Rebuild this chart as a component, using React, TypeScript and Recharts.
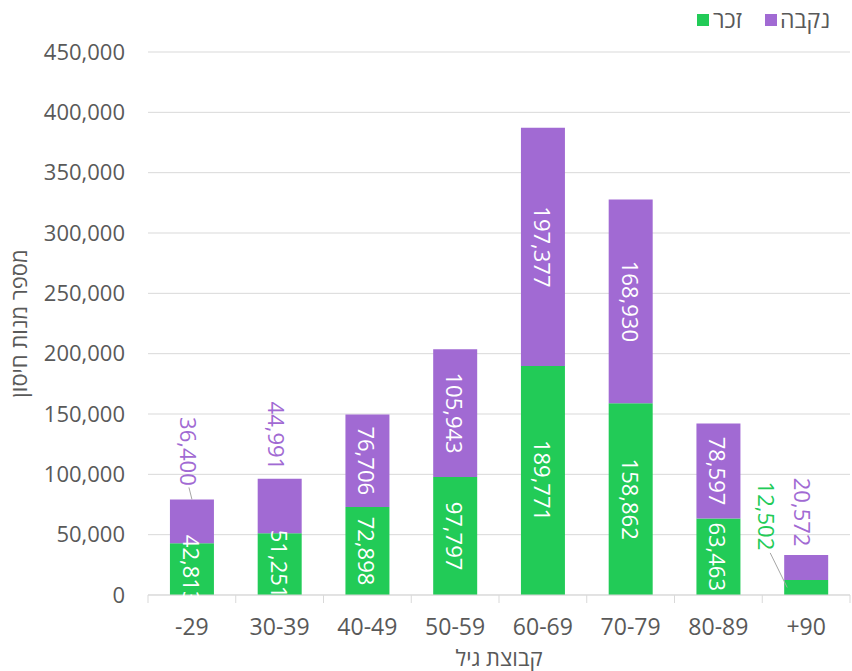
import React from "react";
import { BarChart, Bar, XAxis, YAxis, CartesianGrid, LabelList, Label } from "recharts";

const categories = ["-29", "30-39", "40-49", "50-59", "60-69", "70-79", "80-89", "+90"];
const male = [42813, 51251, 72898, 97797, 189771, 158862, 63463, 12502];
const female = [36400, 44991, 76706, 105943, 197377, 168930, 78597, 20572];
const yTicks = [0, 50000, 100000, 150000, 200000, 250000, 300000, 350000, 400000, 450000];
const seriesNames = { male: "זכר", female: "נקבה" };
const axisTitles = { x: "קבוצת גיל", y: "מספר מנות חיסון" };

const data = categories.map((c, i) => ({ name: c, male: male[i], female: female[i] }));

const W = 852;
const H = 671;
const Y_AXIS_W = 148;
const X_AXIS_H = 76;
const TOP = 52;
const RIGHT = 2;
const PLOT_W = W - Y_AXIS_W - RIGHT;
const BAND = PLOT_W / categories.length;
const AXIS_Y = H - X_AXIS_H;

const GREEN = "#22CB57";
const PURPLE = "#A16AD3";
const TEXT = "#595959";
const GRID = "#D9D9D9";
const FONT = "'Open Sans', 'Noto Sans', sans-serif";
const fmt = (v: number) => v.toLocaleString("en-US");

const makeLabel = (series: "male" | "female") => (props: any) => {
  const { x, y, width, height, value, index } = props;
  const cx = x + width / 2;
  const fs = 22;
  const threshold = series === "female" ? 60 : 30;
  if (height >= threshold) {
    const cy = y + height / 2;
    return (
      <text x={cx} y={cy} transform={`rotate(90, ${cx}, ${cy})`} textAnchor="middle" dominantBaseline="central"
        fill="#ffffff" fontSize={fs} fontFamily={FONT}>{fmt(value)}</text>
    );
  }
  if (series === "female") {
    const cy = index === 0 ? y - 48 : y - 43;
    const lx = cx - 3;
    return (
      <g>
        {index === 0 && <line x1={lx} y1={cy + 36} x2={cx} y2={y} stroke="#A6A6A6" strokeWidth={1} />}
        <text x={lx} y={cy} transform={`rotate(90, ${lx}, ${cy})`} textAnchor="middle" dominantBaseline="central"
          fill={PURPLE} fontSize={fs} fontFamily={FONT}>{fmt(value)}</text>
      </g>
    );
  }
  const lx = cx - 39;
  const cy = y - 64;
  return (
    <g>
      <line x1={lx + 3} y1={cy + 37} x2={cx - 19} y2={y + height / 2} stroke="#A6A6A6" strokeWidth={1} />
      <text x={lx} y={cy} transform={`rotate(90, ${lx}, ${cy})`} textAnchor="middle" dominantBaseline="central"
        fill={GREEN} fontSize={fs} fontFamily={FONT}>{fmt(value)}</text>
    </g>
  );
};

const XTick = (props: any) => {
  const { x, payload, index } = props;
  const left = x - BAND / 2;
  const right = x + BAND / 2;
  return (
    <g>
      <line x1={left} y1={AXIS_Y} x2={left} y2={AXIS_Y + 8} stroke={GRID} strokeWidth={1} />
      {index === categories.length - 1 && (
        <line x1={right} y1={AXIS_Y} x2={right} y2={AXIS_Y + 8} stroke={GRID} strokeWidth={1} />
      )}
      <text x={x} y={AXIS_Y + 40} textAnchor="middle" fill={TEXT} fontSize={23} fontFamily={FONT}>
        {payload.value}
      </text>
    </g>
  );
};

const YTitle = (props: any) => {
  const vb = props.viewBox || {};
  const cy = (vb.y ?? TOP) + (vb.height ?? AXIS_Y - TOP) / 2;
  const cx = 18;
  return (
    <text x={cx} y={cy} transform={`rotate(-90, ${cx}, ${cy})`} textAnchor="middle" dominantBaseline="central"
      fill={TEXT} fontSize={22} fontFamily={FONT}>{axisTitles.y}</text>
  );
};

const XTitle = () => (
  <text x={Y_AXIS_W + PLOT_W / 2} y={657} textAnchor="middle" dominantBaseline="central"
    fill={TEXT} fontSize={22} fontFamily={FONT}>{axisTitles.x}</text>
);

export default function App() {
  return (
    <div style={{ position: "absolute", left: 0, top: 0, width: W, height: H, background: "#fff" }}>
      <BarChart width={W} height={H} data={data} margin={{ top: TOP, right: RIGHT, bottom: 0, left: 0 }} barCategoryGap="25%">
        <CartesianGrid vertical={false} stroke={GRID} />
        <XAxis dataKey="name" height={X_AXIS_H} axisLine={{ stroke: GRID }} tickLine={false} tick={<XTick />} interval={0}>
          <Label content={<XTitle />} />
        </XAxis>
        <YAxis width={Y_AXIS_W} domain={[0, 450000]} ticks={yTicks} axisLine={false} tickLine={false} tickMargin={17}
          tickFormatter={fmt} tick={{ fill: TEXT, fontSize: 22, fontFamily: FONT }}>
          <Label content={<YTitle />} />
        </YAxis>
        <Bar dataKey="male" stackId="a" fill={GREEN} isAnimationActive={false}>
          <LabelList dataKey="male" content={makeLabel("male")} />
        </Bar>
        <Bar dataKey="female" stackId="a" fill={PURPLE} isAnimationActive={false}>
          <LabelList dataKey="female" content={makeLabel("female")} />
        </Bar>
      </BarChart>
      <div style={{ position: "absolute", left: 0, top: 0, fontFamily: FONT, fontSize: 23, color: TEXT }}>
        <div style={{ position: "absolute", left: 697, top: 14, width: 12, height: 12, background: GREEN }} />
        <div style={{ position: "absolute", left: 713, top: 4, lineHeight: "30px", whiteSpace: "nowrap" }}>{seriesNames.male}</div>
        <div style={{ position: "absolute", left: 765, top: 14, width: 12, height: 12, background: PURPLE }} />
        <div style={{ position: "absolute", left: 780, top: 4, lineHeight: "30px", whiteSpace: "nowrap" }}>{seriesNames.female}</div>
      </div>
    </div>
  );
}
